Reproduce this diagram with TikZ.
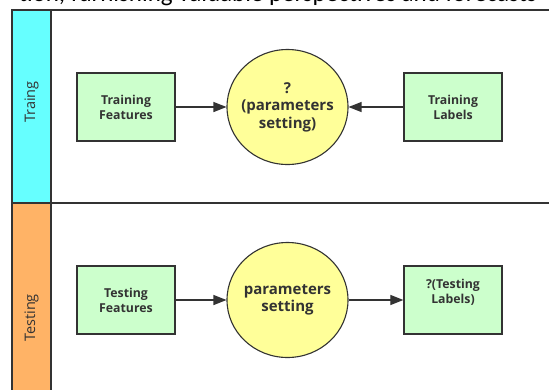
\documentclass[tikz,border=0pt]{standalone}
\usepackage{fontspec}
\setmainfont{Open Sans}
\newfontfamily\topfont{Carlito}
\usetikzlibrary{arrows.meta,shapes.geometric}
\definecolor{lanecyan}{HTML}{66FFFF}
\definecolor{laneorange}{HTML}{FFB366}
\definecolor{boxgreen}{HTML}{CCFFCC}
\definecolor{circyellow}{HTML}{FFFF99}
\definecolor{edge}{HTML}{333333}
\tikzset{
  lane/.style={draw=edge, line width=1.2pt},
  databox/.style={draw=edge, line width=1.3pt, fill=boxgreen, minimum width=98pt, minimum height=68pt,
    font=\bfseries\fontsize{12.3}{15}\selectfont, text=edge, align=center, inner sep=0pt},
  proc/.style={ellipse, draw=edge, line width=1.1pt, fill=circyellow, minimum width=121pt, minimum height=115pt,
    font=\bfseries\fontsize{15}{17.5}\selectfont, text=edge, align=center, inner xsep=-6pt, inner ysep=0pt},
  lanelabel/.style={rotate=90, font=\fontsize{14.5}{16}\selectfont, text=edge},
  flow/.style={draw=edge, line width=1.2pt, -{Triangle[length=13pt,width=10pt]}}
}
\begin{document}
\begin{tikzpicture}[x=1pt,y=-1pt]
\useasboundingbox (0,0) rectangle (549,389);
\fill[white] (0,0) rectangle (549,389);
\begin{scope}
\clip (0,0) rectangle (549,389);
\node[anchor=base east, font=\topfont\fontsize{25}{27}\selectfont, inner sep=0pt] (toptext) at (537,1.5) {tion, furnishing valuable perspectives and forecasts};
% lanes
\filldraw[lane, fill=lanecyan] (12,10) rectangle (51,203);
\filldraw[lane, fill=laneorange] (12,203) rectangle (51,440);
\draw[lane] (51,10) -- (560,10);
\draw[lane] (51,203) -- (560,203);
\end{scope}
\node[lanelabel] (l1) at (31.5,102) {Traing};
\node[lanelabel] (l2) at (31.5,318) {Testing};
% training
\node[databox] (trf) at (126,107) {Training\\Features};
\node[proc] (p1) at (287.5,107) {?\\(parameters\\setting)};
\node[databox] (trl) at (453,107) {Training\\Labels};
\draw[flow] (trf) -- (p1);
\draw[flow] (trl) -- (p1);
% testing
\node[databox] (tef) at (126,300) {Testing\\Features};
\node[proc] (p2) at (287.5,300) {parameters\\setting};
\node[databox, text depth=18pt] (tel) at (453,300) {?(Testing\\Labels)};
\draw[flow] (tef) -- (p2);
\draw[flow] (p2) -- (tel);
\end{tikzpicture}
\end{document}
